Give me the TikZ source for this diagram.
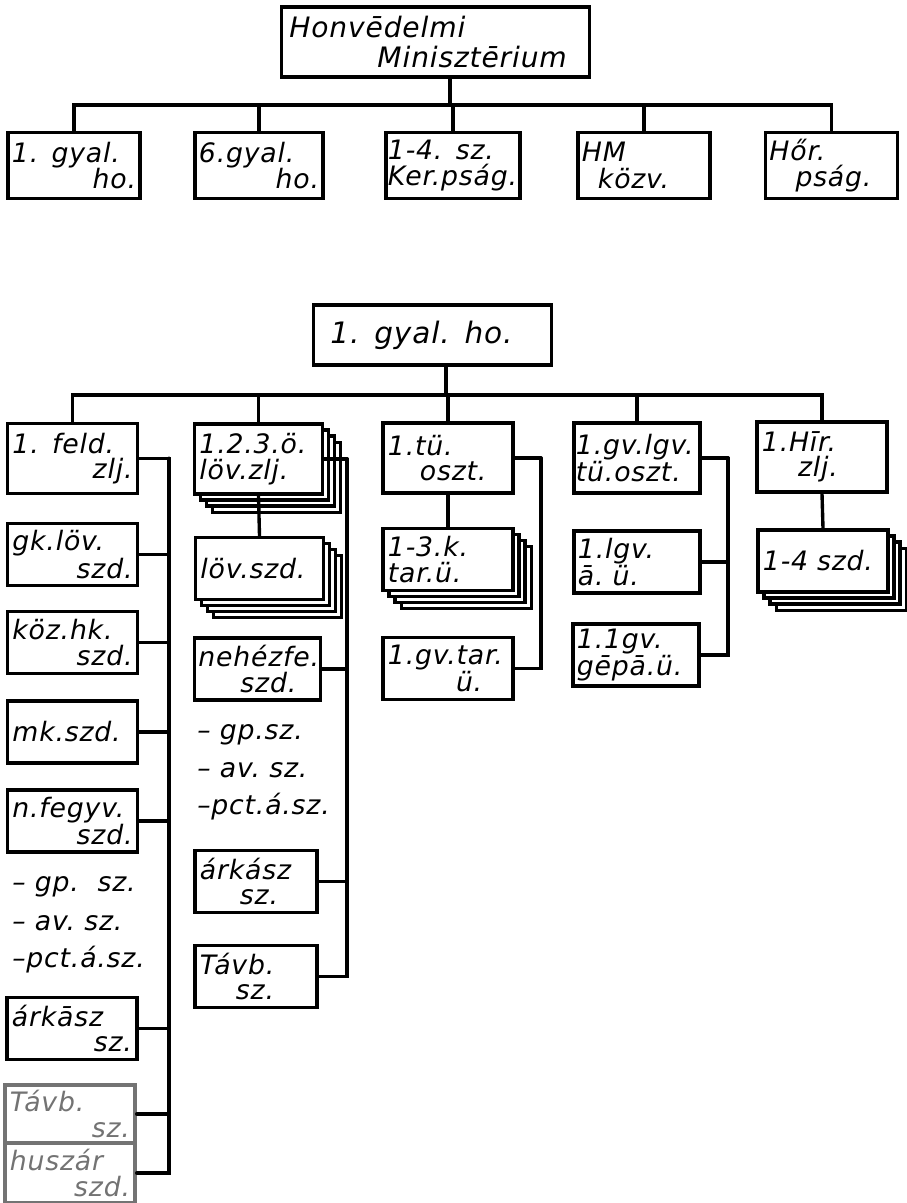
\documentclass[tikz,border=0pt]{standalone}
\usepackage{fontspec}
\usetikzlibrary{shadows}
\newfontfamily\hand{DejaVu Sans}[LetterSpace=3]

\begin{document}
\begin{tikzpicture}[
    x=0.025cm, y=-0.025cm,
    unit/.style={
        draw,
        fill=white,
        line width=2.4pt,
        inner sep=0pt,
        minimum width=3.25cm,
        minimum height=1.55cm,
        text width=3cm,
        align=left,
        font=\hand\itshape\fontsize{19}{18}\selectfont
    },
    upper/.style={
        unit,
        minimum width=3.3cm,
        minimum height=1.65cm,
        text width=3.1cm,
        font=\hand\itshape\fontsize{19}{19}\selectfont
    },
    lead/.style={
        unit,
        minimum height=1.75cm
    },
    faded/.style={
        unit,
        draw=black!55,
        text=black!55
    },
    stacked/.style={
        copy shadow={shadow xshift=13pt, shadow yshift=-13pt, fill=white, draw=black},
        copy shadow={shadow xshift=8.5pt, shadow yshift=-8.5pt, fill=white, draw=black},
        copy shadow={shadow xshift=4.2pt, shadow yshift=-4.2pt, fill=white, draw=black}
    },
    listitem/.style={
        anchor=west,
        inner sep=0pt,
        font=\hand\itshape\fontsize{19}{18}\selectfont
    },
    conn/.style={
        line width=2.4pt,
        line cap=round
    }
]
\useasboundingbox (0,0) rectangle (907,1203);

% Ministry
\node[unit, minimum width=7.7cm, minimum height=1.75cm, text width=7.3cm,
      font=\hand\itshape\fontsize{20}{21}\selectfont] (hm) at (435.5,42)
      {Honvēdelmi\\\hspace*{2.2cm}Minisztērium};

\node[upper] (c1) at (74,165.5) {1. gyal.\\\hspace*{\fill}ho.};
\node[upper, minimum width=3.2cm, text width=3cm] (c2) at (259,165.5) {6.gyal.\\\hspace*{\fill}ho.};
\node[upper, minimum width=3.35cm, text width=3.25cm] (c3) at (453,165.5) {1-4. sz.\\Ker.pság.};
\node[upper] (c4) at (644,165.5) {HM\\\hspace*{0.4cm}közv.};
\node[upper] (c5) at (831.5,165.5) {Hőr.\\\hspace*{0.65cm}pság.};

\coordinate (bus1) at (450,105);
\draw[conn] (hm.south -| bus1) -- (bus1);
\foreach \n in {c1,c2,c3,c4,c5}
    \draw[conn] (\n.north) |- (bus1);

% Division
\node[unit, minimum width=5.95cm, minimum height=1.5cm, text width=5.6cm,
      font=\hand\itshape\fontsize{21}{21}\selectfont] (gy) at (432.5,335)
      {\hspace*{0.25cm}1. gyal. ho.};

% column 1
\node[lead] (feld) at (72.5,458.5) {1. feld.\\\hspace*{\fill}zlj.};
\node[unit] (gk) at (72.5,554.5) {gk.löv.\\\hspace*{\fill}szd.};
\node[unit] (koz) at (72.5,642.5) {köz.hk.\\\hspace*{\fill}szd.};
\node[unit] (mk) at (72.5,732) {mk.szd.};
\node[unit] (nfe) at (72.5,821) {n.fegyv.\\\hspace*{\fill}szd.};
\node[listitem] (gp1) at (12,887) {– gp.\ \ sz.};
\node[listitem] (av1) at (12,923) {– av.\ sz.};
\node[listitem] (pct1) at (12,960) {–pct.á.sz.};
\node[unit] (ark1) at (72,1028.5) {árkāsz\\\hspace*{\fill}sz.};
\node[faded, minimum height=1.45cm] (tav1) at (70,1114) {Távb.\\\hspace*{\fill}sz.};
\node[faded, minimum height=1.5cm] (hus) at (70,1173) {huszár\\\hspace*{\fill}szd.};

% column 2
\node[lead, stacked, minimum width=3.2cm, text width=2.95cm] (lov) at (258.5,459) {1.2.3.ö.\\löv.zlj.};
\node[unit, stacked, minimum width=3.2cm, text width=2.95cm] (lsz) at (259.5,568.5) {löv.szd.};
\node[unit, minimum width=3.15cm, text width=2.95cm] (neh) at (257.5,669) {nehézfe.\\\hspace*{1.05cm}szd.};
\node[listitem] (gp2) at (197,735) {– gp.sz.};
\node[listitem] (av2) at (197,770) {– av.\ sz.};
\node[listitem] (pct2) at (197,807) {–pct.á.sz.};
\node[unit, minimum width=3.05cm, text width=2.8cm] (ark2) at (256,881.5) {árkász\\\hspace*{1cm}sz.};
\node[unit, minimum width=3.05cm, text width=2.8cm] (tav2) at (256,976.5) {Távb.\\\hspace*{0.9cm}sz.};

% column 3
\node[lead] (tu) at (448,458) {1.tü.\\\hspace*{0.8cm}oszt.};
\node[unit, stacked] (k13) at (448,559.5) {1-3.k.\\tar.ü.};
\node[unit] (gvt) at (448,668.5) {1.gv.tar.\\\hspace*{1.7cm}ü.};

% column 4
\node[lead, minimum width=3.15cm, text width=3.05cm] (gvl) at (637,458) {1.gv.lgv.\\tü.oszt.};
\node[unit, minimum width=3.15cm, text width=2.95cm] (lga) at (637,562) {1.lgv.\\ā.\ ü.};
\node[unit, minimum width=3.15cm, text width=2.95cm] (gep) at (636,655) {1.1gv.\\gēpā.ü.};

% column 5
\node[lead] (hir) at (822,457) {1.Hīr.\\\hspace*{0.9cm}zlj.};
\node[unit, stacked] (sz14) at (823,561) {1-4 szd.};

% links
\coordinate (bus2) at (446,395);
\draw[conn] (gy.south -| bus2) -- (bus2);
\foreach \n in {feld,lov,tu,gvl,hir}
    \draw[conn] (\n.north) |- (bus2);

\coordinate (sp1) at (169,458.5);
\draw[conn] (feld.east) -- (sp1);
\foreach \n in {gk,koz,mk,nfe,ark1,tav1,hus}
    \draw[conn] (\n.east) -| (sp1);

\coordinate (sp2) at (347,459);
\draw[conn] (lov.east) -- (sp2);
\foreach \n in {neh,ark2,tav2}
    \draw[conn] (\n.east) -| (sp2);
\draw[conn] (lov.south) -- (lsz.north);

\coordinate (sp3) at (541,458);
\draw[conn] (tu.east) -- (sp3);
\draw[conn] (gvt.east) -| (sp3);
\draw[conn] (tu.south) -- (k13.north);

\coordinate (sp4) at (728,458);
\draw[conn] (gvl.east) -- (sp4);
\foreach \n in {lga,gep}
    \draw[conn] (\n.east) -| (sp4);

\draw[conn] (hir.south) -- (sz14.north);

\end{tikzpicture}
\end{document}
